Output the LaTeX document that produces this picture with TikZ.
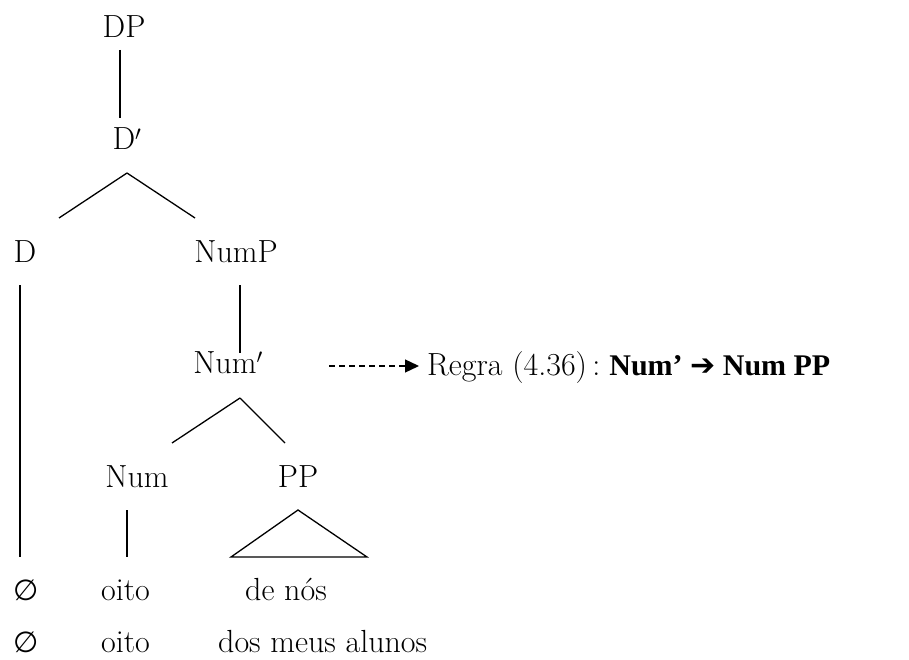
\documentclass[tikz,border=0pt]{standalone}
\usepackage{fontspec}
\newfontfamily\dejavu{DejaVu Sans}
\newfontfamily\libser{Liberation Serif}
\usetikzlibrary{arrows.meta,calc}
\begin{document}
\begin{tikzpicture}[x=1pt,y=-1pt,
  lbl/.style={anchor=base,inner sep=0pt,font=\fontsize{32}{38}\selectfont},
  lblw/.style={anchor=base west,inner sep=0pt,font=\fontsize{32}{38}\selectfont},
  edge/.style={line width=1.3pt},
  dasharrow/.style={line width=1.3pt,dash pattern=on 6pt off 4pt,-{Triangle[length=14pt,width=13pt]}}]
\useasboundingbox (0,0) rectangle (909,660);
% tree labels
\node[lbl] (dp) at (124,38) {DP};
\node[lbl] (dbar) at (127,150) {D$'$};
\node[lbl] (d) at (25,262) {D};
\node[lbl] (nump) at (236,262) {NumP};
\node[lbl] (numbar) at (228,373) {Num$'$};
\node[lbl] (num) at (137,487) {Num};
\node[lbl] (pp) at (298,487) {PP};
% terminal rows
\node[lblw] (e1) at (13,600) {\dejavu\fontsize{29}{34}\selectfont ∅};
\node[lblw] (oito1) at (101,600) {oito};
\node[lblw] (denos) at (245,600) {de nós};
\node[lblw] (e2) at (13,652) {\dejavu\fontsize{29}{34}\selectfont ∅};
\node[lblw] (oito2) at (101,652) {oito};
\node[lblw] (dos) at (218,652) {dos meus alunos};
% rule
\node[lblw] (regra) at (427,375) {Regra (4.36)\,:\hspace{9pt}{\libser\bfseries\fontsize{30}{36}\selectfont Num’ {\dejavu\bfseries\fontsize{30}{36}\selectfont ➔} Num PP}};
% connectors
\draw[edge] ($(dp.base)+(-4,12)$) -- ($(dbar.base)+(-7,-32)$);
\coordinate (dapex) at ($(dbar.base)+(0,23)$);
\draw[edge] (dapex) -- ($(d.base)+(34,-44)$);
\draw[edge] (dapex) -- ($(nump.base)+(-41,-44)$);
\draw[edge] ($(d.base)+(-5,23)$) -- ($(d.base)+(-5,295)$);
\draw[edge] ($(nump.base)+(4,23)$) -- ($(numbar.base)+(12,-20)$);
\coordinate (napex) at ($(numbar.base)+(12,25)$);
\draw[edge] (napex) -- ($(num.base)+(35,-44)$);
\draw[edge] (napex) -- ($(pp.base)+(-13,-44)$);
\draw[edge] ($(num.base)+(-10,23)$) -- ($(num.base)+(-10,70)$);
\draw[edge,line join=miter] ($(pp.base)+(0,23)$) -- ($(pp.base)+(-67,70)$) -- ($(pp.base)+(69,70)$) -- cycle;
\draw[dasharrow] ($(numbar.base)+(101,-7)$) -- ($(regra.base west)+(-8,-9)$);
\end{tikzpicture}
\end{document}
